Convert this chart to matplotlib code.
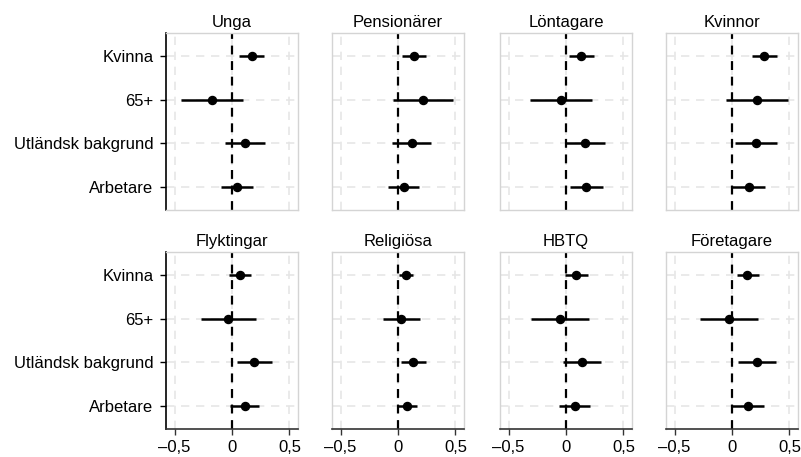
import matplotlib
matplotlib.use("Agg")
import matplotlib.pyplot as plt
import numpy as np

plt.rcParams['font.family'] = ['Liberation Sans', 'DejaVu Sans']

categories = ["Kvinna", "65+", "Utländsk bakgrund", "Arbetare"]
groups = ["Unga", "Pensionärer", "Löntagare", "Kvinnor",
          "Flyktingar", "Religiösa", "HBTQ", "Företagare"]

# estimate, lower bound, upper bound per category (order as in `categories`)
est_unga = [0.17, -0.17, 0.11, 0.04]
lo_unga = [0.06, -0.44, -0.06, -0.10]
hi_unga = [0.28, 0.10, 0.29, 0.18]

est_pension = [0.14, 0.22, 0.12, 0.05]
lo_pension = [0.035, -0.04, -0.05, -0.085]
hi_pension = [0.24, 0.48, 0.285, 0.185]

est_lontag = [0.135, -0.045, 0.165, 0.175]
lo_lontag = [0.025, -0.31, 0.0, 0.035]
hi_lontag = [0.245, 0.23, 0.34, 0.32]

est_kvinnor = [0.28, 0.22, 0.21, 0.145]
lo_kvinnor = [0.17, -0.05, 0.03, 0.0]
hi_kvinnor = [0.39, 0.49, 0.39, 0.29]

est_flykt = [0.07, -0.035, 0.19, 0.11]
lo_flykt = [-0.025, -0.27, 0.04, -0.015]
hi_flykt = [0.165, 0.205, 0.345, 0.235]

est_relig = [0.07, 0.03, 0.13, 0.08]
lo_relig = [0.005, -0.13, 0.025, 0.0]
hi_relig = [0.135, 0.19, 0.24, 0.165]

est_hbtq = [0.09, -0.055, 0.14, 0.075]
lo_hbtq = [-0.01, -0.305, -0.025, -0.06]
hi_hbtq = [0.19, 0.20, 0.305, 0.21]

est_foret = [0.13, -0.025, 0.215, 0.14]
lo_foret = [0.04, -0.275, 0.055, 0.0]
hi_foret = [0.235, 0.225, 0.38, 0.275]

series = [
    (est_unga, lo_unga, hi_unga),
    (est_pension, lo_pension, hi_pension),
    (est_lontag, lo_lontag, hi_lontag),
    (est_kvinnor, lo_kvinnor, hi_kvinnor),
    (est_flykt, lo_flykt, hi_flykt),
    (est_relig, lo_relig, hi_relig),
    (est_hbtq, lo_hbtq, hi_hbtq),
    (est_foret, lo_foret, hi_foret),
]

xticks = [-0.5, 0.0, 0.5]
xticklabels = ["\u20130,5", "0", "0,5"]

W, H = 801, 457
fig = plt.figure(figsize=(W / 100, H / 100), dpi=100)

lefts = [166, 332, 500, 666]
width = 132
row_tops = [33, 252]
height = 177
fs = 12

grid_col = "#e6e6e6"
frame_col = "#d4d4d4"
ypos = np.arange(len(categories))[::-1] + 1  # Kvinna at top

for i, (name, (est, lo, hi)) in enumerate(zip(groups, series)):
    r, c = divmod(i, 4)
    ax = fig.add_axes([lefts[c] / W, 1 - (row_tops[r] + height) / H,
                       width / W, height / H])
    ax.set_xlim(-0.575, 0.575)
    ax.set_ylim(0.48, 4.52)

    for xv in xticks:
        ax.axvline(xv, color=grid_col, lw=1.2, ls=(0, (5, 4)), zorder=0)
    for yv in ypos:
        ax.axhline(yv, color=grid_col, lw=1.2, ls=(0, (5, 4)), zorder=0)

    ax.axvline(0, color="black", lw=1.6, ls=(0, (4, 3)), zorder=2)
    ax.hlines(ypos, lo, hi, color="black", lw=1.8, zorder=3)
    ax.plot(est, ypos, "o", color="black", ms=5.8, zorder=4)

    ax.set_title(name, fontsize=fs, pad=4)

    for s in ax.spines.values():
        s.set_color(frame_col)
        s.set_linewidth(1.0)

    ax.set_xticks(xticks)
    ax.set_yticks(ypos)
    if c == 0:
        ax.set_yticklabels(categories, fontsize=fs)
        ax.spines["left"].set_color("black")
        ax.spines["left"].set_linewidth(1.2)
        ax.tick_params(axis="y", length=4, width=1, color="black", pad=5)
    else:
        ax.tick_params(axis="y", length=0, labelleft=False)
    if r == 1:
        ax.set_xticklabels(xticklabels, fontsize=fs)
        ax.spines["bottom"].set_color("#333333")
        ax.spines["bottom"].set_linewidth(1.2)
        ax.tick_params(axis="x", length=4, width=1, color="#333333", pad=4)
    else:
        ax.tick_params(axis="x", length=0, labelbottom=False)

fig.savefig("out.png", dpi=100)
